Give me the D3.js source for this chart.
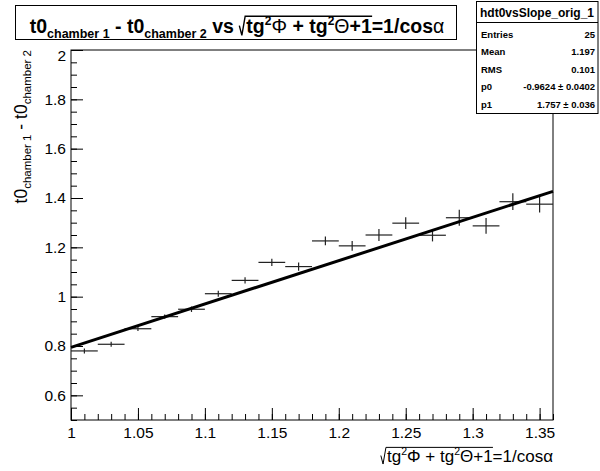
<!DOCTYPE html>
<html><head><meta charset="utf-8">
<script src="https://cdn.jsdelivr.net/npm/d3@7"></script>
<style>
html,body{margin:0;padding:0;background:#fff;}
text{white-space:pre;font-family:"Liberation Sans",Arial,sans-serif;fill:#000;}
</style></head>
<body>
<svg id="chart" width="600" height="471"></svg>
<script>
// ---------------- data ----------------
const binCenters = [1.01,1.03,1.05,1.07,1.09,1.11,1.13,1.15,1.17,1.19,1.21,1.23,1.25,1.27,1.29,1.31,1.33,1.35];
const binHalfWidths = [0.01,0.01,0.01,0.01,0.01,0.01,0.01,0.01,0.01,0.01,0.01,0.01,0.01,0.01,0.01,0.01,0.01,0.01];
const meanValues = [0.780,0.807,0.870,0.919,0.949,1.012,1.066,1.139,1.122,1.226,1.206,1.250,1.298,1.249,1.320,1.287,1.385,1.375];
const meanErrors = [0.010,0.010,0.009,0.009,0.011,0.012,0.013,0.015,0.017,0.018,0.020,0.024,0.024,0.025,0.032,0.032,0.034,0.034];
const xTickValues = [1,1.05,1.1,1.15,1.2,1.25,1.3,1.35];
const xTickLabels = ["1","1.05","1.1","1.15","1.2","1.25","1.3","1.35"];
const yTickValues = [0.6,0.8,1,1.2,1.4,1.6,1.8,2];
const yTickLabels = ["0.6","0.8","1","1.2","1.4","1.6","1.8","2"];
const fitP0 = -0.9624, fitP1 = 1.757;
const fitRange = [1, 1.36];
const statName = "hdt0vsSlope_orig_1";
const statLabels = ["Entries","Mean","RMS","p0","p1"];
const statValues = ["25","1.197","0.101","-0.9624 \u00b1 0.0402","1.757 \u00b1 0.036"];

// ---------------- layout ----------------
const L = 71, R = 553, T = 50, B = 420;
const svg = d3.select("#chart");
const x = d3.scaleLinear().domain([1, 1.36]).range([L, R]);
const y = d3.scaleLinear().domain([0.5, 2]).range([B, T]);

// frame
svg.append("rect").attr("x", L).attr("y", T).attr("width", R - L).attr("height", B - T)
  .attr("fill", "none").attr("stroke", "#000").attr("stroke-width", 1);

// x axis minor + major
const xMinor = d3.range(0, 37).map(i => 1 + i * 0.01);
svg.append("g").attr("transform", `translate(0,${B})`)
  .call(d3.axisBottom(x).tickValues(xMinor).tickSize(-6).tickFormat(""))
  .call(g => g.select(".domain").remove());
svg.append("g").attr("transform", `translate(0,${B})`)
  .call(d3.axisBottom(x).tickValues(xTickValues).tickSize(-12).tickPadding(7)
        .tickFormat((d, i) => xTickLabels[i]))
  .call(g => g.select(".domain").remove())
  .call(g => g.selectAll("text").style("font-size", "15.5px").attr("fill", "#000"));

// y axis minor + major
const yMinor = d3.range(0, 31).map(i => 0.5 + i * 0.05);
svg.append("g").attr("transform", `translate(${L},0)`)
  .call(d3.axisLeft(y).tickValues(yMinor).tickSize(-6).tickFormat(""))
  .call(g => g.select(".domain").remove());
svg.append("g").attr("transform", `translate(${L},0)`)
  .call(d3.axisLeft(y).tickValues(yTickValues).tickSize(-12).tickPadding(5)
        .tickFormat((d, i) => yTickLabels[i]))
  .call(g => g.select(".domain").remove())
  .call(g => g.selectAll("text").style("font-size", "15.5px").attr("fill", "#000")
        .attr("y", d => d === 2 ? 6 : 0));

// data error bars
const pts = binCenters.map((c, i) => ({c, h: binHalfWidths[i], v: meanValues[i], e: meanErrors[i]}));
const gp = svg.append("g").attr("stroke", "#222").attr("stroke-width", 1.2);
gp.selectAll("line.h").data(pts).join("line").attr("class", "h")
  .attr("x1", d => x(d.c - d.h)).attr("x2", d => x(d.c + d.h))
  .attr("y1", d => y(d.v)).attr("y2", d => y(d.v));
gp.selectAll("line.v").data(pts).join("line").attr("class", "v")
  .attr("x1", d => x(d.c)).attr("x2", d => x(d.c))
  .attr("y1", d => y(d.v - d.e)).attr("y2", d => y(d.v + d.e));

// fit line
const fitPts = fitRange.map(xx => [xx, fitP0 + fitP1 * xx]);
svg.append("path").datum(fitPts)
  .attr("d", d3.line().x(d => x(d[0])).y(d => y(d[1])))
  .attr("stroke", "#000").attr("stroke-width", 3).attr("fill", "none");

// ---------------- rich text helper ----------------
function layout(g, segs, x0, S, weight) {
  let xc = x0;
  segs.forEach(s => {
    if (s.sqrt) {
      const sx = xc;
      xc += S * 0.36;
      const end = layout(g, s.sqrt, xc, S, weight);
      g.append("path")
        .attr("d", `M${sx},${-0.38*S} L${sx+0.13*S},${0.12*S} L${sx+0.3*S},${-0.86*S} L${end+0.02*S},${-0.86*S}`)
        .attr("fill", "none").attr("stroke", "#000").attr("stroke-width", S > 17 ? 1.4 : 1);
      xc = end;
    } else {
      const t = g.append("text").attr("x", xc).attr("y", -(s.b || 0))
        .style("font-size", (s.s || S) + "px")
        .style("font-weight", s.w || weight)
        .text(s.t);
      xc += t.node().getComputedTextLength();
    }
  });
  return xc;
}
function rich(parent, segs, S, weight, anchor, tx, ty, rot) {
  const outer = parent.append("g").attr("transform", `translate(${tx},${ty})` + (rot ? ` rotate(${rot})` : ""));
  const g = outer.append("g");
  const w = layout(g, segs, 0, S, weight);
  const off = anchor === "end" ? -w : anchor === "middle" ? -w / 2 : 0;
  g.attr("transform", `translate(${off},0)`);
  return w;
}

// title box
svg.append("rect").attr("x", 15.5).attr("y", 5.5).attr("width", 441).attr("height", 34)
  .attr("fill", "#fff").attr("stroke", "#000").attr("stroke-width", 1);
const TS = 19.5, ts = 12.5;
rich(svg, [
  {t: "t0"}, {t: "chamber 1", s: ts, b: -5}, {t: " - t0"}, {t: "chamber 2", s: ts, b: -5}, {t: " vs "},
  {sqrt: [{t: "tg"}, {t: "2", s: 12, b: 8}, {t: "\u03a6", w: "normal"}, {t: " + tg"}, {t: "2", s: 12, b: 8}, {t: "\u0398", w: "normal"}, {t: "+1"}]},
  {t: "=1/cos"}, {t: "\u03b1", w: "normal"}
], TS, "bold", "middle", 237, 33);

// y title
const YS = 17.5, ys = 11.5;
rich(svg, [
  {t: "t0"}, {t: "chamber 1", s: ys, b: -4}, {t: " - t0"}, {t: "chamber 2", s: ys, b: -4}
], YS, "normal", "end", 27, T, -90);

// x title
rich(svg, [
  {sqrt: [{t: "tg"}, {t: "2", s: 10.5, b: 7}, {t: "\u03a6"}, {t: " + tg"}, {t: "2", s: 10.5, b: 7}, {t: "\u0398"}, {t: "+1"}]},
  {t: "=1/cos"}, {t: "\u03b1"}
], 17, "normal", "end", R, 462);

// stats box
const sb = svg.append("g");
sb.append("rect").attr("x", 476.5).attr("y", 1.5).attr("width", 121.5).attr("height", 112)
  .attr("fill", "#fff").attr("stroke", "#000").attr("stroke-width", 1);
sb.append("line").attr("x1", 476.5).attr("x2", 598).attr("y1", 22.5).attr("y2", 22.5)
  .attr("stroke", "#000").attr("stroke-width", 1);
sb.append("text").attr("x", 537).attr("y", 12.5).attr("text-anchor", "middle")
  .attr("dominant-baseline", "central").style("font-size", "12px").style("font-weight", "bold").text(statName);
const rowY = d3.scaleLinear().domain([0, 4]).range([34, 104]);
statLabels.forEach((lab, i) => {
  sb.append("text").attr("x", 481).attr("y", rowY(i)).attr("dominant-baseline", "central")
    .style("font-size", "9.5px").style("font-weight", "bold").text(lab);
  sb.append("text").attr("x", 595).attr("y", rowY(i)).attr("dominant-baseline", "central")
    .attr("text-anchor", "end").style("font-size", "9.5px").style("font-weight", "bold").text(statValues[i]);
});
</script>
</body></html>
